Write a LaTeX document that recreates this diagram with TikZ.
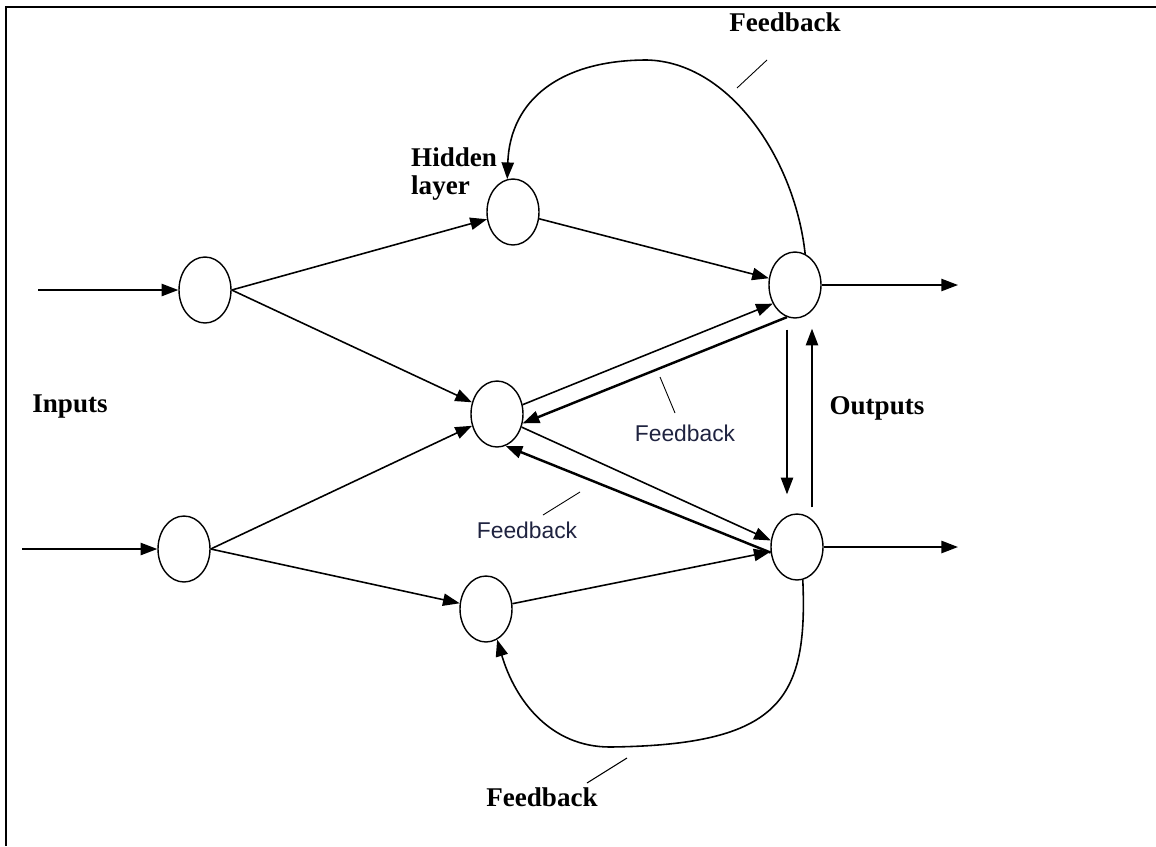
\documentclass[tikz,border=0pt]{standalone}
\usepackage{fontspec}
\setmainfont{Liberation Serif}
\newfontfamily\fbsans{Liberation Sans}
\usepackage{tikz}
\usetikzlibrary{arrows.meta,calc,shapes.geometric}
\definecolor{fbnavy}{HTML}{1F2340}

\tikzset{
  neuron/.style={draw, ellipse, line width=0.8pt, minimum width=1.04cm, minimum height=1.32cm, inner sep=0pt},
  link/.style={line width=0.9pt, -{Triangle[length=9.5pt,width=7pt]}},
  backlink/.style={link, line width=1.4pt},
  lbl/.style={font=\fontsize{15.4}{16}\selectfont\bfseries},
  fblbl/.style={font=\fontsize{13}{15}\selectfont\fbsans, text=fbnavy},
}

\begin{document}
\begin{tikzpicture}[x=0.02cm, y=-0.02cm]
\useasboundingbox (0,0) rectangle (1156,846);
\draw[line width=1.2pt] (1156,7) -- (6,7) -- (6,846);

% neurons
\node[neuron] (i1) at (205,290) {};
\node[neuron] (i2) at (184,549) {};
\node[neuron] (h1) at (513,212) {};
\node[neuron] (h2) at (497,414) {};
\node[neuron] (h3) at (486,609) {};
\node[neuron] (o1) at (795,285) {};
\node[neuron] (o2) at (797,547) {};

\coordinate (in1) at (38,290);
\coordinate (in2) at (22,549);
\coordinate (out1) at (958,285);
\coordinate (out2) at (958,547);

% inputs and outputs
\draw[link] (in1) -- (i1.west);
\draw[link] (in2) -- (i2.west);
\draw[link] (o1.east) -- (out1);
\draw[link, line width=1.1pt] (o2.east) -- (out2);

% forward connections
\draw[link] (i1.east) -- (h1);
\draw[link] (i1.east) -- (h2);
\draw[link] (i2.east) -- (h2);
\draw[link] (i2.east) -- (h3);
\draw[link] (h1) -- (o1);
\draw[link] (h3) -- (o2.190);
\draw[link] (h2.20) -- (o1.220);
\draw[link] (h2.-28) -- (o2.166);

% feedback connections
\draw[backlink] (o1.256) -- (h2.-20);
\draw[backlink] (o2.192) -- (h2.-75);
\draw[link, shorten <=0.22cm, shorten >=0.38cm] ([xshift=-0.16cm]o1.south) -- ([xshift=-0.16cm]o1.south |- o2.north);
\draw[link, shorten <=0.12cm, shorten >=0.2cm] ([xshift=0.3cm]o2.north) -- ([xshift=0.3cm]o2.north |- o1.south);
\draw[link] (o1.72) .. controls (795,160) and (730,62) .. (647,60) .. controls (560,60) and (510,100) .. (h1.100);
\draw[link] (o2.-80) .. controls (808,700) and (780,745) .. (610,747) .. controls (550,747) and (515,700) .. (h3.-70);

% labels
\node[lbl] (inlbl) at (70,407) {Inputs};
\node[lbl] (outlbl) at (877,408) {Outputs};
\node[lbl, anchor=west, align=left] (hidlbl) at (405,174) {Hidden\\layer};
\node[lbl] (fbtop) at (785,22) {Feedback};
\node[lbl] (fbbot) at (542,797) {Feedback};
\node[fblbl] (fbmid1) at (685,433) {Feedback};
\node[fblbl] (fbmid2) at (527,530) {Feedback};

% leader lines
\draw[line width=0.5pt] (767,60) -- (737,88);
\draw[line width=0.5pt] (660,377) -- (675,413);
\draw[line width=0.5pt] (543,515) -- (580,492);
\draw[line width=0.6pt] (587,783) -- (627,758);
\end{tikzpicture}
\end{document}
